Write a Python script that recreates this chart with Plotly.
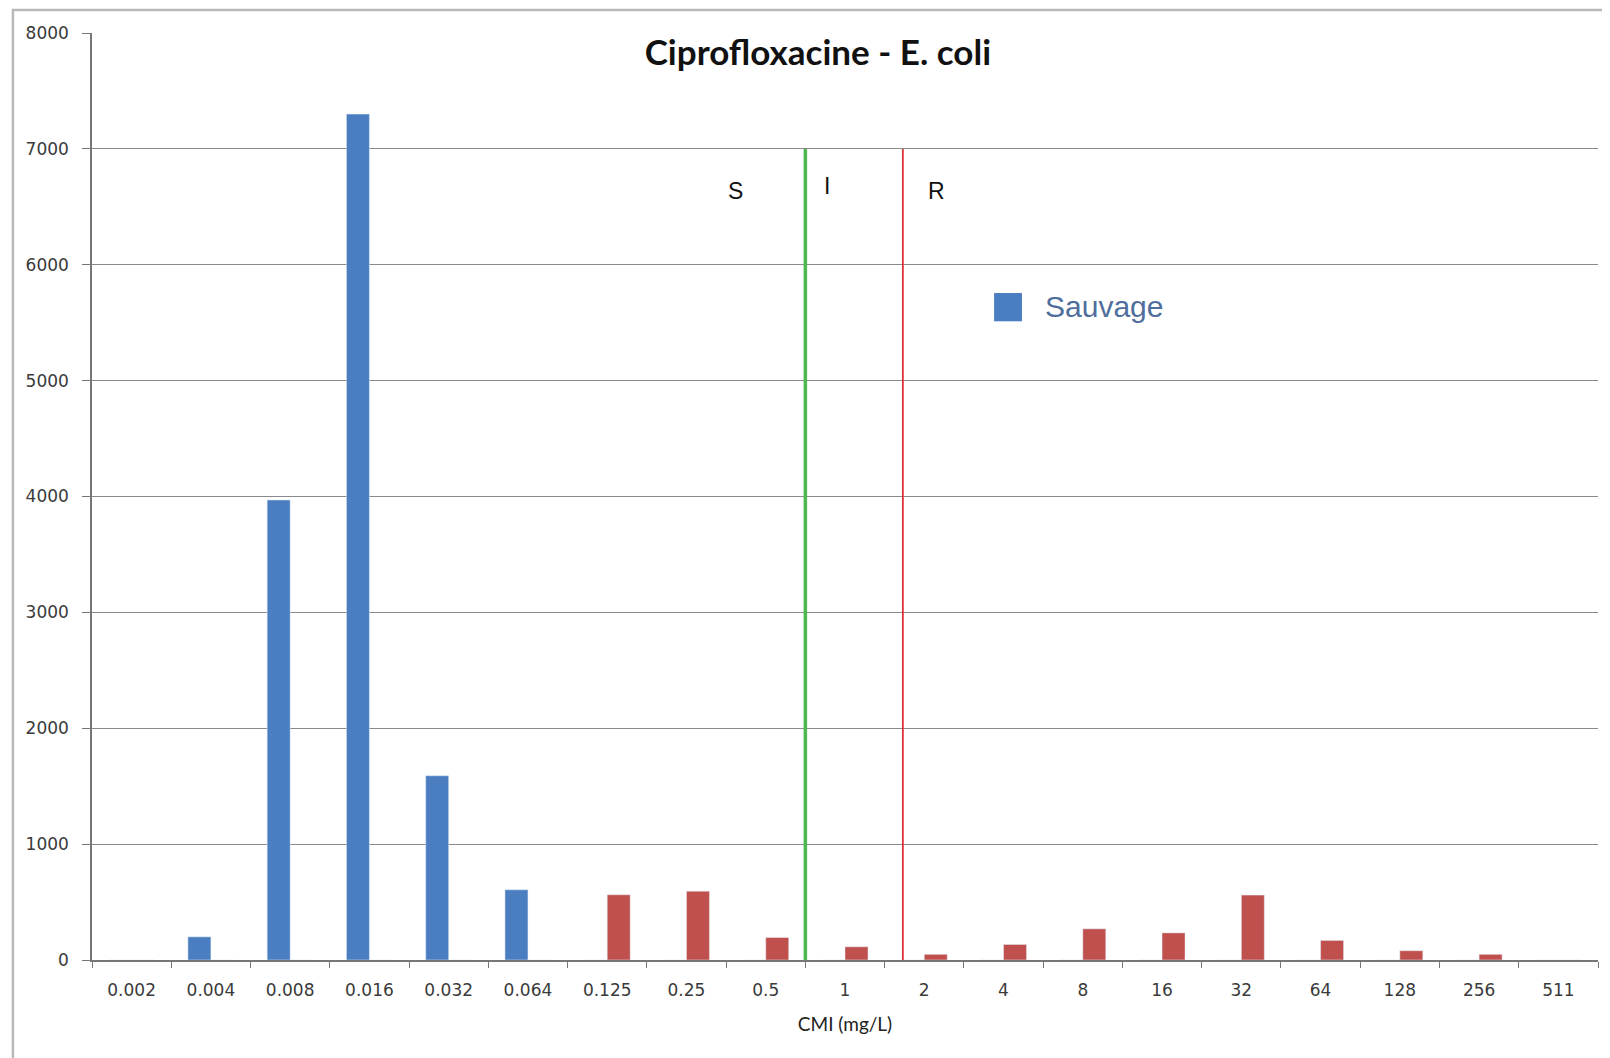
import plotly.graph_objects as go

categories = ["0.002", "0.004", "0.008", "0.016", "0.032", "0.064", "0.125", "0.25", "0.5",
              "1", "2", "4", "8", "16", "32", "64", "128", "256", "511"]
sauvage = [0, 200, 3970, 7300, 1590, 606, 0, 0, 0, 0, 0, 0, 0, 0, 0, 0, 0, 0, 0]
resistant = [0, 0, 0, 0, 0, 0, 563, 594, 194, 114, 49, 134, 269, 234, 560, 169, 80, 49, 0]
y_ticks = [0, 1000, 2000, 3000, 4000, 5000, 6000, 7000, 8000]
breakpoint_s = 8.5      # between 0.5 and 1
breakpoint_r = 9.73     # between 1 and 2
zone_labels = ["S", "I", "R"]
zone_label_x = [7.62, 8.77, 10.16]
zone_label_y = [6640, 6680, 6640]

BLUE = "#4A7EC0"
RED = "#C0504D"

fig = go.Figure()
fig.add_trace(go.Bar(x=categories, y=sauvage, name="Sauvage", marker_color=BLUE,
                     offsetgroup="a", showlegend=False))
fig.add_trace(go.Bar(x=categories, y=resistant, name="Résistant", marker_color=RED,
                     offsetgroup="b", showlegend=False))

# breakpoint lines
fig.add_shape(type="line", xref="x", yref="y", x0=breakpoint_s, x1=breakpoint_s, y0=0, y1=7000,
              line=dict(color="#4DB84D", width=3.5))
fig.add_shape(type="line", xref="x", yref="y", x0=breakpoint_r, x1=breakpoint_r, y0=0, y1=7000,
              line=dict(color="#E0303A", width=1.8))

for lab, lx, ly in zip(zone_labels, zone_label_x, zone_label_y):
    fig.add_annotation(x=lx, y=ly, xref="x", yref="y", text=lab, showarrow=False,
                       font=dict(family="Liberation Sans, Arial", size=23, color="#111111"))

# legend (key square + label)
fig.add_shape(type="rect", xref="paper", yref="paper", x0=0.599, x1=0.6175, y0=0.689, y1=0.7195,
              line=dict(width=0), fillcolor=BLUE)
fig.add_annotation(x=0.6315, y=0.7055, xref="paper", yref="paper", text="Sauvage",
                   showarrow=False, xanchor="left", yanchor="middle",
                   font=dict(family="Liberation Sans, Arial", size=30, color="#4F6E9C"))

# outer chart border
fig.add_shape(type="rect", xref="paper", yref="paper", x0=-0.0525, x1=1.006, y0=-0.12, y1=1.0248,
              line=dict(color="#B8B8B8", width=2.5), fillcolor="rgba(0,0,0,0)", layer="below")

fig.update_layout(
    width=1610, height=1058,
    margin=dict(l=84, r=20, t=25, b=106),
    paper_bgcolor="white", plot_bgcolor="white",
    barmode="group", bargap=0.42, bargroupgap=0,
    showlegend=False,
    title=dict(text="<b>Ciprofloxacine - E. coli</b>", x=0.482, xref="paper", xanchor="center",
               y=0.958, yref="container", yanchor="middle",
               font=dict(family="Lato, Open Sans", size=35, color="#111111")),
    xaxis=dict(type="category", categoryorder="array", categoryarray=categories,
               tickson="boundaries", ticks="outside", ticklen=6, tickcolor="#777777",
               showline=True, linecolor="#777777", linewidth=1.5,
               ticklabelstandoff=14,
               tickfont=dict(family="DejaVu Sans", size=17, color="#3A3A3A"),
               title=dict(text="CMI (mg/L)", standoff=19,
                          font=dict(family="Lato, DejaVu Sans", size=19, color="#222222")),
               range=[-0.5, 18.5], showgrid=False),
    yaxis=dict(range=[0, 8000], tickvals=y_ticks, ticks="outside", ticklen=8, tickcolor="#777777",
               showline=True, linecolor="#777777", linewidth=1.5,
               showgrid=True, gridcolor="#8A8A8A", gridwidth=1,
               ticklabelstandoff=10,
               tickfont=dict(family="DejaVu Sans", size=17, color="#3A3A3A"),
               zeroline=False),
)

fig.write_html("out.html")
